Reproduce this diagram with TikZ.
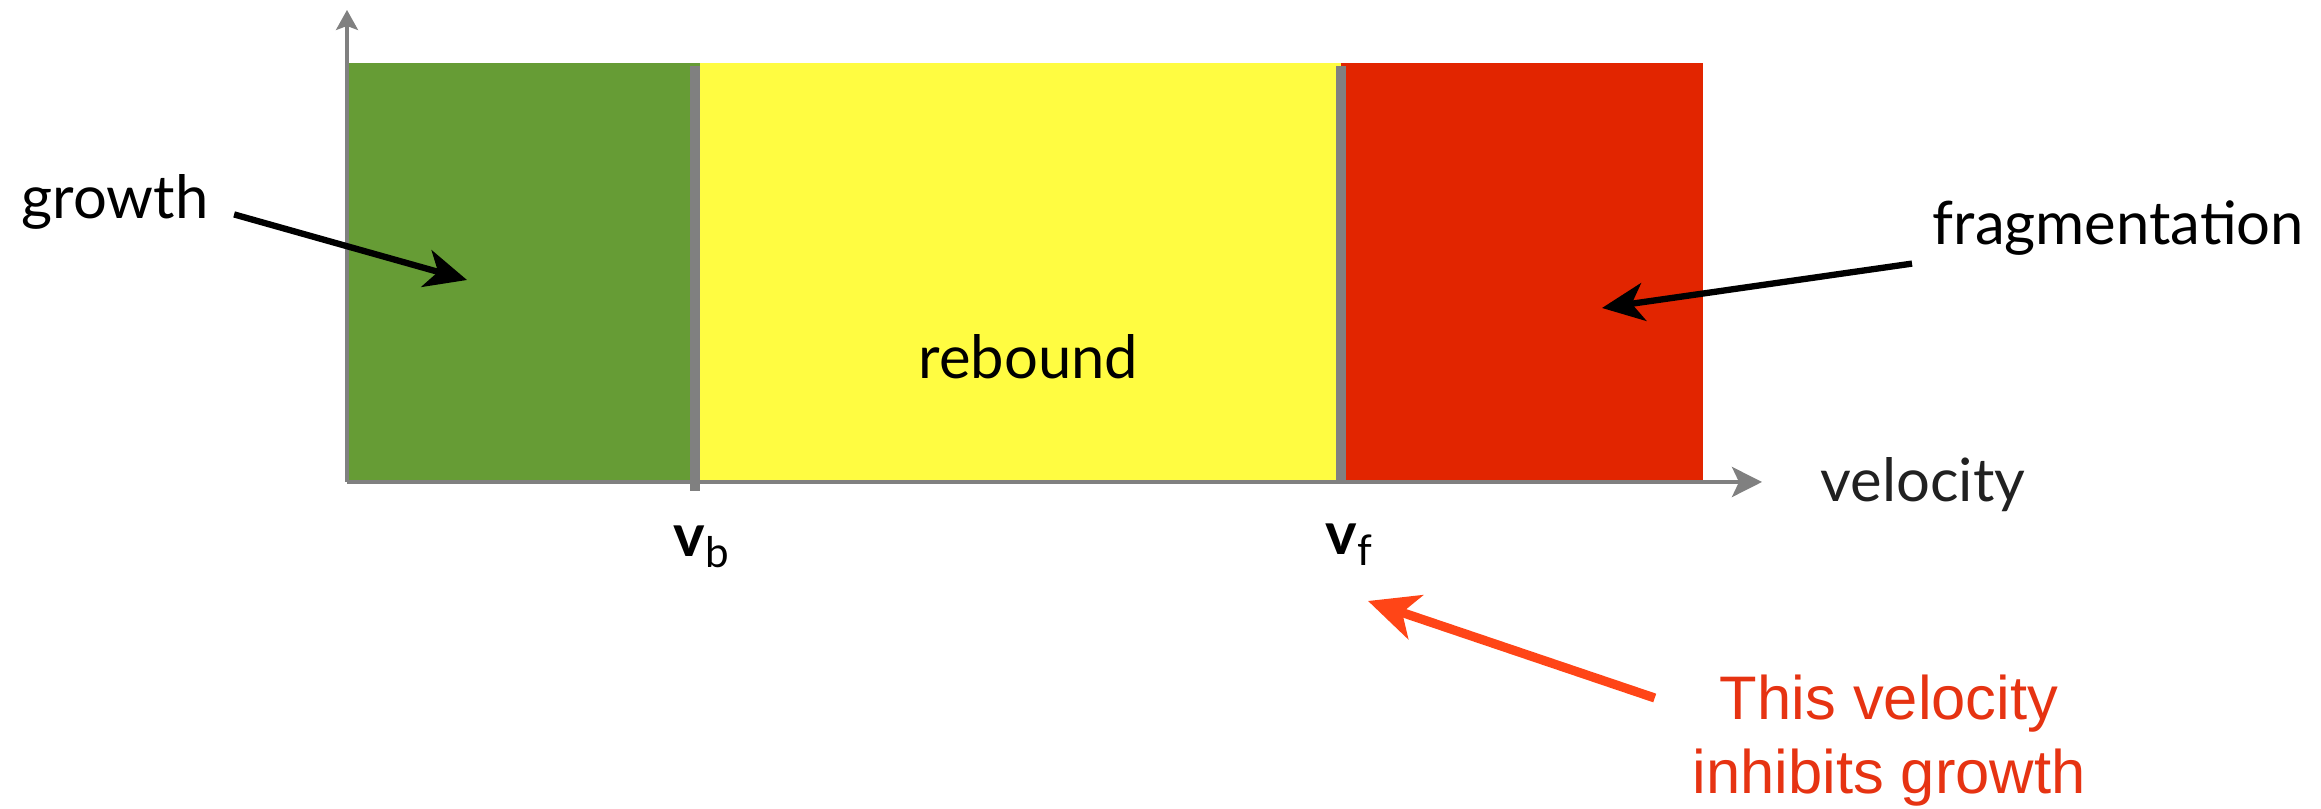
\documentclass[tikz,border=0pt]{standalone}
\usepackage{fontspec}
\setmainfont{Lato}
\newfontfamily\notefont{Liberation Sans}
\usetikzlibrary{arrows.meta}
\definecolor{growthgreen}{HTML}{669C35}
\definecolor{reboundyellow}{HTML}{FFFC41}
\definecolor{fragred}{HTML}{E22500}
\definecolor{axisgray}{HTML}{808080}
\definecolor{notered}{HTML}{E63312}
\definecolor{pointred}{HTML}{FF4517}

\begin{document}
\begin{tikzpicture}[font=\fontsize{17}{20}\selectfont,
  lbl/.style={inner sep=0pt, anchor=base west},
  axis/.style={draw=axisgray, line width=1.2pt},
  bound/.style={draw=axisgray, line width=2.6pt},
  pointer/.style={line width=1.8pt, -{Stealth[length=4.2mm,width=3.8mm,inset=1.2mm]}}]
  \useasboundingbox (0,0) rectangle (23.21,8.09);
  % regimes
  \fill[growthgreen] (3.47,3.27) rectangle (7.00,7.46);
  \fill[reboundyellow] (7.00,3.27) rectangle (13.41,7.46);
  \fill[fragred] (13.41,3.27) rectangle (17.03,7.46);
  \draw[bound] (6.95,3.18) -- (6.95,7.43);
  \draw[bound] (13.41,3.27) -- (13.41,7.43);
  % axes
  \draw[axis, line width=0.9pt, -{Stealth[length=2mm,width=2.2mm,inset=0.4mm]}] (3.47,3.27) -- (3.47,7.99);
  \draw[axis, -{Stealth[length=3mm,width=3mm,inset=0.7mm]}] (3.47,3.27) -- (17.62,3.27);
  \node[lbl, text=black!87] (velocity) at (18.20,3.07) {velocity};
  \node[lbl] (vb) at (6.73,2.52) {\bfseries v\raisebox{-0.35ex}{\mdseries\fontsize{12}{12}\selectfont b}};
  \node[lbl] (vf) at (13.25,2.54) {\bfseries v\raisebox{-0.35ex}{\mdseries\fontsize{12}{12}\selectfont f}};
  % labels
  \node[lbl] (growth) at (0.21,5.90) {growth};
  \node[lbl] (rebound) at (9.18,4.30) {rebound};
  \node[lbl] (frag) at (19.32,5.64) {fragmentation};
  \coordinate (gtip) at (4.67,5.29);
  \coordinate (ftip) at (16.02,5.01);
  \draw[pointer] ([xshift=0.25cm,yshift=-0.12cm]growth.east) -- (gtip);
  \draw[pointer] ([xshift=-0.2cm,yshift=-0.07cm]frag.south west) -- (ftip);
  % note
  \node[inner sep=0pt, align=center, text=notered, font=\notefont\fontsize{17.5}{21}\selectfont, anchor=north] (note) at (18.89,1.35) {This velocity\\inhibits growth};
  \coordinate (vtip) at (13.68,2.08);
  \draw[pointred, line width=2.6pt, -{Stealth[length=5mm,width=4.6mm,inset=1.4mm]}] ([xshift=-0.37cm,yshift=-0.24cm]note.north west) -- (vtip);
\end{tikzpicture}
\end{document}
